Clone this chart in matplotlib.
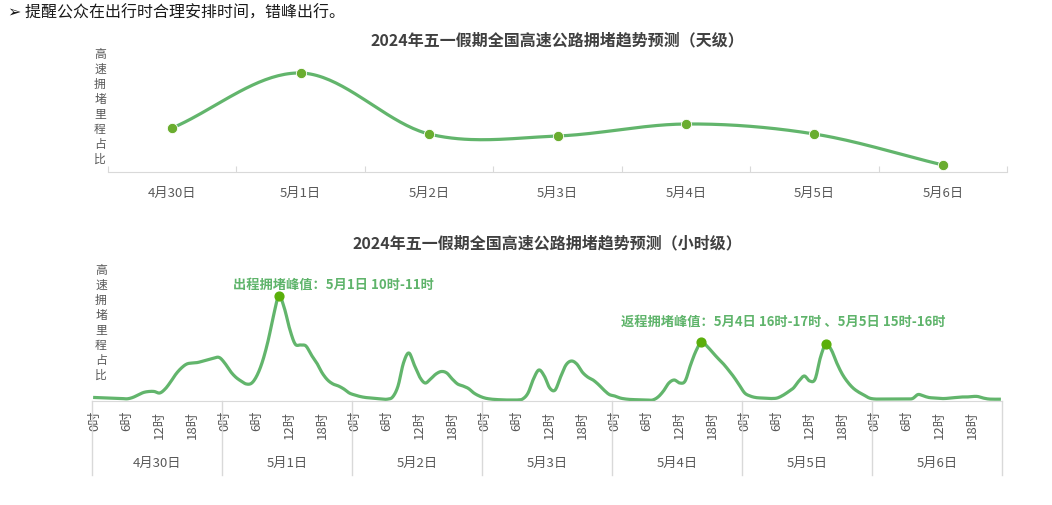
import matplotlib
matplotlib.use("Agg")
import matplotlib.pyplot as plt
import matplotlib.transforms as mtransforms
import numpy as np

plt.rcParams['font.family'] = ['Noto Sans CJK SC', 'DejaVu Sans']

# ---- data ----
days = ["4月30日", "5月1日", "5月2日", "5月3日", "5月4日", "5月5日", "5月6日"]
day_level = [44, 99, 38, 36, 48, 38, 7]  # 拥堵里程占比 (相对值)

hour_ticks = [0, 6, 12, 18]
hour_labels = ["0时", "6时", "12时", "18时"]

apr30 = [3.5, 3.3, 3, 3, 2.8, 2.5, 2.2, 3.5, 6, 8.5, 9.5, 9.5,
         8, 12, 19, 27, 33, 37, 38, 38.5, 40, 41.5, 43, 43.5]
may1 = [38, 30, 24, 20, 17, 18, 26, 40, 60, 85, 105, 93,
        72, 57, 56, 55, 46, 38, 28, 21, 17, 15, 12, 8]
may2 = [6, 4.5, 3.5, 3, 2.5, 2, 1.8, 4, 15, 38, 48, 36,
        24, 18, 22, 27, 29.5, 28, 22, 17, 15, 12.5, 8, 5]
may3 = [3, 2, 1.5, 1.2, 1, 1, 1, 2, 8, 22, 31, 25,
        13, 11, 24, 36, 40, 37, 29, 24, 21, 16.5, 11, 6.5]
may4 = [5, 3, 2, 1.5, 1.3, 1.2, 1, 1, 4, 10, 18, 21,
        18, 20, 36, 50, 59, 55, 49, 43, 37.5, 31, 24, 16]
may5 = [8, 5, 3.5, 3, 2.7, 2.5, 3, 5.5, 9, 13, 20, 25,
        20, 22, 44, 57, 51, 38, 27, 19, 13, 9, 6, 3]
may6 = [2, 2, 2, 2, 2, 2, 2, 2.5, 6.5, 5, 3.5, 3,
        2.5, 2.5, 3, 3.5, 4, 4, 4.5, 4.5, 3, 2, 1.8, 1.8]

peak_out = (1, 10)                 # 5月1日 10时
peak_back = [(4, 16), (5, 15)]     # 5月4日 16时, 5月5日 15时

green = '#62b56c'
dot = '#6aad2f'
grey_text = '#595959'
axis_grey = '#d9d9d9'


def smooth(x, y, n=12):
    # Catmull-Rom style Hermite curve through the points
    x = np.asarray(x, float)
    y = np.asarray(y, float)
    m = np.gradient(y, x)
    xs, ys = [], []
    for i in range(len(x) - 1):
        h = x[i + 1] - x[i]
        t = np.linspace(0, 1, n, endpoint=False)
        h00 = 2 * t**3 - 3 * t**2 + 1
        h10 = t**3 - 2 * t**2 + t
        h01 = -2 * t**3 + 3 * t**2
        h11 = t**3 - t**2
        xs.append(x[i] + t * h)
        ys.append(h00 * y[i] + h10 * h * m[i] + h01 * y[i + 1] + h11 * h * m[i + 1])
    xs.append([x[-1]])
    ys.append([y[-1]])
    return np.concatenate(xs), np.concatenate(ys)


W, H = 1052, 505
fig = plt.figure(figsize=(W / 100, H / 100), dpi=100)


def rect(l, t, r, b):
    return [l / W, 1 - b / H, (r - l) / W, (b - t) / H]


fig.text(8 / W, 1 - 13 / H, "➢ 提醒公众在出行时合理安排时间，错峰出行。",
         fontsize=11.5, color='#1a1a1a', va='center', ha='left')

# ---- top chart: daily ----
ax1 = fig.add_axes(rect(108, 55, 1007, 172))
xd = np.arange(len(days))
sx, sy = smooth(xd, day_level, n=40)
ax1.plot(sx, sy, color=green, lw=2.3, zorder=2)
ax1.scatter(xd, day_level, s=55, color=dot, zorder=3, edgecolor='white', linewidth=0.6)
ax1.set_xlim(-0.5, len(days) - 0.5)
ax1.set_ylim(0, 117)
for s in ['top', 'right', 'left']:
    ax1.spines[s].set_visible(False)
ax1.spines['bottom'].set_color(axis_grey)
ax1.set_yticks([])
ax1.set_xticks(np.arange(len(days) + 1) - 0.5)
ax1.set_xticklabels([])
ax1.tick_params(axis='x', which='major', direction='in', length=4, color=axis_grey)
ax1.set_xticks(xd, minor=True)
ax1.set_xticklabels(days, minor=True)
ax1.tick_params(axis='x', which='minor', length=0, pad=11, labelsize=9.5, labelcolor=grey_text)
ax1.set_title("2024年五一假期全国高速公路拥堵趋势预测（天级）", fontsize=11.5,
              fontweight='bold', color='#404040', pad=7)
fig.text(100 / W, 1 - 107 / H, "\n".join("高速拥堵里程占比"), fontsize=8.5,
         color=grey_text, ha='center', va='center', linespacing=1.2)

# ---- bottom chart: hourly ----
hourly = np.array(apr30 + may1 + may2 + may3 + may4 + may5 + may6, float)
xh = np.arange(len(hourly)) + 0.5
ax2 = fig.add_axes(rect(92, 265, 1002, 401))
hx, hy = smooth(xh, hourly, n=10)
ax2.plot(hx, hy, color=green, lw=2.3, zorder=2)
pk_idx = [peak_out[0] * 24 + peak_out[1]] + [d * 24 + h for d, h in peak_back]
ax2.scatter(xh[pk_idx], hourly[pk_idx], s=40, color='#5aaf0a', zorder=3)
ax2.set_xlim(0, len(hourly))
ax2.set_ylim(0, 136)
for s in ['top', 'right', 'left']:
    ax2.spines[s].set_visible(False)
ax2.spines['bottom'].set_color(axis_grey)
ax2.set_yticks([])
tick_pos = [d * 24 + h + 0.5 for d in range(len(days)) for h in hour_ticks]
ax2.set_xticks(tick_pos)
ax2.set_xticklabels(hour_labels * len(days), rotation=90, va='top')
ax2.tick_params(axis='x', length=0, pad=7, labelsize=9.5, labelcolor=grey_text)
ax2.set_title("2024年五一假期全国高速公路拥堵趋势预测（小时级）", fontsize=11.5,
              fontweight='bold', color='#404040', pad=12)

trans = mtransforms.blended_transform_factory(ax2.transData, ax2.transAxes)
for d in range(len(days) + 1):
    ax2.plot([d * 24, d * 24], [0, -0.545], transform=trans, color=axis_grey,
             lw=1, clip_on=False)
for d, name in enumerate(days):
    ax2.text(d * 24 + 12, -0.456, name, transform=trans, ha='center', va='center',
             fontsize=9.5, color=grey_text)

ax2.annotate("出程拥堵峰值：5月1日 10时-11时", xy=(xh[pk_idx[0]], hourly[pk_idx[0]]),
             xytext=(-46, 11), textcoords='offset pixels', ha='left', va='center',
             fontsize=9.5, fontweight='bold', color='#5fb46b')
ax2.annotate("返程拥堵峰值：5月4日 16时-17时 、5月5日 15时-16时",
             xy=(xh[pk_idx[1]], hourly[pk_idx[1]]),
             xytext=(-80, 20), textcoords='offset pixels', ha='left', va='center',
             fontsize=9.5, fontweight='bold', color='#5fb46b')
fig.text(101 / W, 1 - 323 / H, "\n".join("高速拥堵里程占比"), fontsize=8.5,
         color=grey_text, ha='center', va='center', linespacing=1.2)

fig.savefig("out.png", dpi=100, facecolor='white')
